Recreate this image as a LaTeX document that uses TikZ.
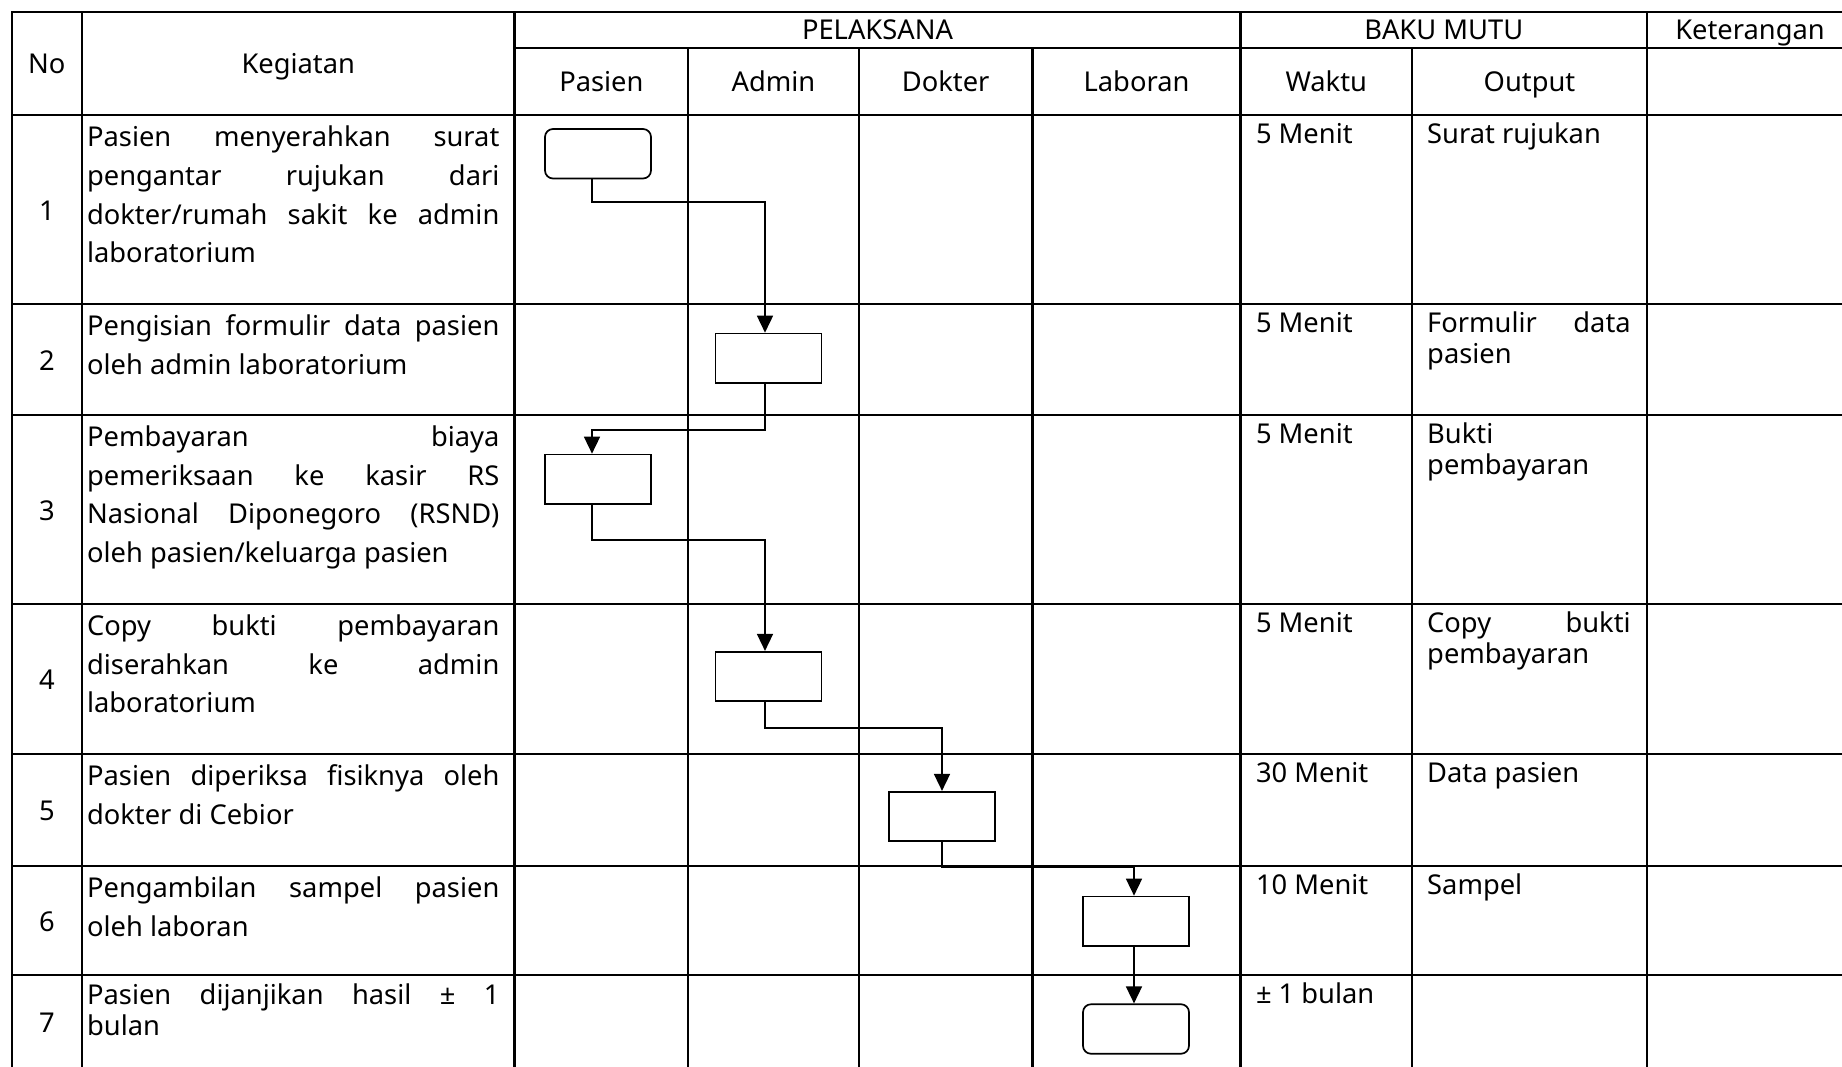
\documentclass[tikz,border=0pt]{standalone}
\usepackage{fontspec}
\setmainfont{Noto Sans}
\usetikzlibrary{arrows.meta}
\newcommand\jl[2][412.3pt]{\makebox[#1][s]{\strut #2}}
\newcommand\lastline[1]{\strut #1}
\begin{document}
\begin{tikzpicture}[x=1pt,y=-1pt,
  grid/.style={line width=2.3pt, line cap=rect},
  hd/.style={inner sep=0pt, text height=19.5pt, text depth=0pt, font=\fontsize{27.3}{32}\selectfont},
  act/.style={anchor=north west, inner sep=0pt, align=left, font=\fontsize{27.3}{38.8}\selectfont},
  sm/.style={anchor=north west, inner sep=0pt, align=left, font=\fontsize{27.3}{30.5}\selectfont},
  proc/.style={draw, line width=1.7pt, minimum width=106pt, minimum height=49.5pt, inner sep=0pt},
  term/.style={proc, rounded corners=8pt},
  conn/.style={line width=1.6pt, -{Triangle[length=17pt,width=16pt]}}
]
\useasboundingbox (0,0) rectangle (1842,1066);
\fill[white] (0,0) rectangle (1842,1066);
% ---- grid ----
\draw[grid] (11.7,11.7) -- (1842,11.7);
\draw[grid] (514.5,48.2) -- (1842,48.2);
\foreach \yy in {115,304,414.7,603.8,754,865.7,975}
  \draw[grid] (11.7,\yy) -- (1842,\yy);
\foreach \xx in {11.7,82,514.5,1240.5,1647}
  \draw[grid] (\xx,11.7) -- (\xx,1066);
\foreach \xx in {688.3,858.8,1032.6,1412}
  \draw[grid] (\xx,48.2) -- (\xx,1066);
% ---- headers ----
\node[hd] (hNo) at (46.85,64) {No};
\node[hd] (hKeg) at (298.25,64) {Kegiatan};
\node[hd] (hPel) at (877.5,29.5) {PELAKSANA};
\node[hd] (hBaku) at (1443.75,29.5) {BAKU MUTU};
\node[hd] (hKet) at (1750,29.5) {Keterangan};
\node[hd] (hPas) at (601.4,81.6) {Pasien};
\node[hd] (hAdm) at (773.5,81.6) {Admin};
\node[hd] (hDok) at (945.7,81.6) {Dokter};
\node[hd] (hLab) at (1136.5,81.6) {Laboran};
\node[hd] (hWak) at (1326.25,81.6) {Waktu};
\node[hd] (hOut) at (1529.5,81.6) {Output};
% ---- numbers ----
\node[hd] (n1) at (46.85,211) {1};
\node[hd] (n2) at (46.85,360.5) {2};
\node[hd] (n3) at (46.85,511) {3};
\node[hd] (n4) at (46.85,680) {4};
\node[hd] (n5) at (46.85,811) {5};
\node[hd] (n6) at (46.85,921.5) {6};
\node[hd] (n7) at (46.85,1023) {7};
% ---- activities ----
\node[act] (k1) at (86.9,119.2) {\jl{Pasien menyerahkan surat}\\\jl{pengantar rujukan dari}\\\jl{dokter/rumah sakit ke admin}\\\lastline{laboratorium}};
\node[act] (k2) at (86.9,308.2) {\jl{Pengisian formulir data pasien}\\\lastline{oleh admin laboratorium}};
\node[act] (k3) at (86.9,418.9) {\jl{Pembayaran biaya}\\\jl{pemeriksaan ke kasir RS}\\\jl{Nasional Diponegoro (RSND)}\\\lastline{oleh pasien/keluarga pasien}};
\node[act] (k4) at (86.9,608) {\jl{Copy bukti pembayaran}\\\jl{diserahkan ke admin}\\\lastline{laboratorium}};
\node[act] (k5) at (86.9,758.2) {\jl{Pasien diperiksa fisiknya oleh}\\\lastline{dokter di Cebior}};
\node[act] (k6) at (86.9,869.9) {\jl{Pengambilan sampel pasien}\\\lastline{oleh laboran}};
\node[sm] (k7) at (86.9,983.4) {\jl{Pasien dijanjikan hasil ± 1}\\\lastline{bulan}};
% ---- waktu ----
\node[sm] (w1) at (1255.8,122.4) {\lastline{5 Menit}};
\node[sm] (w2) at (1255.8,311.4) {\lastline{5 Menit}};
\node[sm] (w3) at (1255.8,422.1) {\lastline{5 Menit}};
\node[sm] (w4) at (1255.8,611.2) {\lastline{5 Menit}};
\node[sm] (w5) at (1255.8,761.4) {\lastline{30 Menit}};
\node[sm] (w6) at (1255.8,873.1) {\lastline{10 Menit}};
\node[sm] (w7) at (1255.8,982.4) {\lastline{± 1 bulan}};
% ---- output ----
\node[sm] (o1) at (1427,122.4) {\lastline{Surat rujukan}};
\node[sm] (o2) at (1427,311.4) {\jl[203.5pt]{Formulir data}\\\lastline{pasien}};
\node[sm] (o3) at (1427,422.1) {\lastline{Bukti}\\\lastline{pembayaran}};
\node[sm] (o4) at (1427,611.2) {\jl[203.5pt]{Copy bukti}\\\lastline{pembayaran}};
\node[sm] (o5) at (1427,761.4) {\lastline{Data pasien}};
\node[sm] (o6) at (1427,873.1) {\lastline{Sampel}};
% ---- flow boxes ----
\node[term] (b1) at (598,153.75) {};
\node[proc] (b2) at (768.5,358.3) {};
\node[proc] (b3) at (598,479.25) {};
\node[proc] (b4) at (768.5,676.5) {};
\node[proc] (b5) at (942,816.5) {};
\node[proc] (b6) at (1136,921.25) {};
\node[term] (b7) at (1136,1029) {};
% ---- connectors ----
\draw[conn] ([xshift=-6pt]b1.south) -- ++(0,22.4) -| ([xshift=-3.5pt]b2.north);
\draw[conn] ([xshift=-3.5pt]b2.south) -- ++(0,46) -| ([xshift=-6pt]b3.north);
\draw[conn] ([xshift=-6pt]b3.south) -- ++(0,35.3) -| ([xshift=-3.5pt]b4.north);
\draw[conn] ([xshift=-3.5pt]b4.south) -- ++(0,26) -| (b5.north);
\draw[conn] (b5.south) -- ++(0,25) -| ([xshift=-2pt]b6.north);
\draw[conn] ([xshift=-2pt]b6.south) -- ([xshift=-2pt]b7.north);
\end{tikzpicture}
\end{document}
